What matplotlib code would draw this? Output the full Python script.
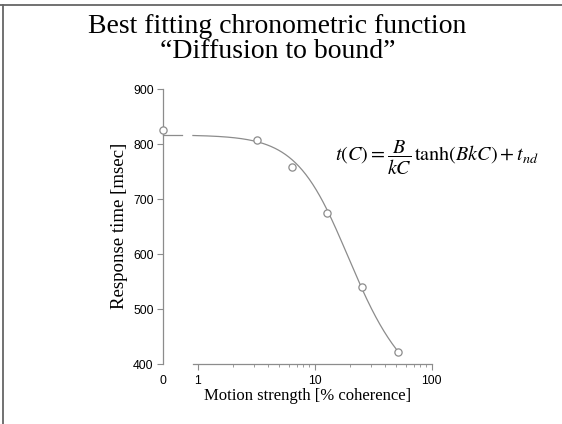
import numpy as np
import matplotlib
matplotlib.use("Agg")
import matplotlib.pyplot as plt
from matplotlib.lines import Line2D

# ---- data ----
coherence = [0, 3.2, 6.4, 12.8, 25.6, 51.2]          # % coherence
rt_msec = [826, 807, 758, 675, 541, 422]              # response time
# fitted diffusion-to-bound parameters (t = a*tanh(cC)/(cC) + tnd)
fit_a = 510.0
fit_c = 0.085
fit_tnd = 307.0

xticks = [1, 10, 100]
xticklabels = ["1", "10", "100"]
yticks = [400, 500, 600, 700, 800, 900]
zero_pos = 0.505   # where the 0% condition is drawn on the log axis

W, H = 562, 424
fig = plt.figure(figsize=(W / 100, H / 100), dpi=100)

ax = fig.add_axes([163 / W, 1 - 364.3 / H, (431.7 - 163) / W, (364.3 - 89.3) / H])
ax.set_xscale("log")
ax.set_xlim(zero_pos, 100)
ax.set_ylim(400, 900)

gray = "#8c8c8c"

def chrono(C):
    C = np.asarray(C, dtype=float)
    u = fit_c * C
    return fit_a * np.tanh(u) / u + fit_tnd

# fit curve
Cc = np.logspace(np.log10(0.91), np.log10(51.2), 300)
ax.plot(Cc, chrono(Cc), color=gray, lw=0.9, clip_on=False)
# short flat segment at the 0% location
t0 = fit_a + fit_tnd
ax.plot([zero_pos, 0.74], [t0, t0], color=gray, lw=0.9, clip_on=False)

# data points (0 drawn at zero_pos)
xpts = [zero_pos if c == 0 else c for c in coherence]
ax.plot(xpts, rt_msec, linestyle="none", marker="o", ms=5.2,
        mfc="white", mec=gray, mew=0.9, clip_on=False, zorder=5)

# spines
for s in ["top", "right"]:
    ax.spines[s].set_visible(False)
ax.spines["left"].set_color(gray)
ax.spines["bottom"].set_color(gray)
ax.spines["left"].set_linewidth(0.9)
ax.spines["bottom"].set_linewidth(0.9)
ax.spines["bottom"].set_bounds(0.91, 100)

ax.set_yticks(yticks)
ax.set_yticklabels([str(v) for v in yticks])
ax.set_xticks([zero_pos] + xticks)
ax.set_xticklabels(["0"] + xticklabels)
minor = [m * d for d in (1, 10) for m in range(2, 10)]
ax.xaxis.set_minor_locator(matplotlib.ticker.FixedLocator(minor))
ax.xaxis.set_minor_formatter(matplotlib.ticker.NullFormatter())
ax.tick_params(axis="both", which="major", direction="out", length=4.3, width=0.8,
               color=gray, labelsize=8.8, pad=2.5)
ax.tick_params(axis="x", which="minor", direction="out", length=2.2, width=0.6, color=gray)
ax.tick_params(axis="x", which="major", pad=3.5)
# hide the tick at 0 (coincides with the y spine)
ax.xaxis.get_major_ticks()[0].tick1line.set_visible(False)
for lab in ax.get_xticklabels() + ax.get_yticklabels():
    lab.set_family("Liberation Sans")

serif = "Liberation Serif"
fig.text(277 / W, 1 - 33 / H, "Best fitting chronometric function",
         ha="center", va="baseline", family=serif, fontsize=20)
fig.text(278 / W, 1 - 58.5 / H, "\u201cDiffusion to bound\u201d",
         ha="center", va="baseline", family=serif, fontsize=20)

fig.text(120 / W, 1 - 226 / H, "Response time [msec]", rotation=90,
         ha="center", va="center", family=serif, fontsize=13.6)
fig.text(204 / W, 1 - 400.5 / H, "Motion strength [% coherence]",
         ha="left", va="baseline", family=serif, fontsize=12)

matplotlib.rcParams["mathtext.fontset"] = "stix"
fig.text(437 / W, 1 - 158 / H,
         r"$t(C)=\dfrac{B}{kC}\,\mathrm{tanh}(BkC)+t_{nd}$",
         ha="center", va="center", fontsize=14.5)

# slide border (top and left only)
fig.add_artist(Line2D([0, 1], [1 - 4.5 / H, 1 - 4.5 / H], transform=fig.transFigure,
                      color="#666666", lw=1.3))
fig.add_artist(Line2D([3 / W, 3 / W], [0, 1 - 4.5 / H], transform=fig.transFigure,
                      color="#666666", lw=1.3))

fig.savefig("out.png", dpi=100)
